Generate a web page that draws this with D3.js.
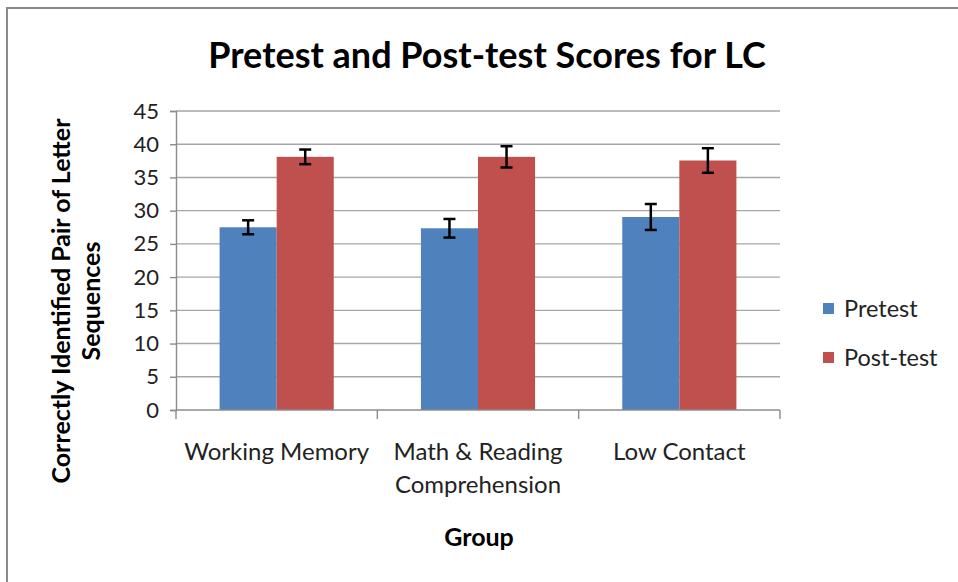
<!DOCTYPE html>
<html>
<head>
<meta charset="utf-8">
<script src="https://cdn.jsdelivr.net/npm/d3@7"></script>
<style>
  html, body { margin: 0; padding: 0; background: #fff; }
  svg { display: block; }
  text { font-family: Lato, "Open Sans", sans-serif; }
</style>
</head>
<body>
<svg id="chart" width="958" height="582"></svg>
<script>
// Group labels (each may wrap onto two lines)
const categories = ["Working Memory", "Math & Reading Comprehension", "Low Contact"];
const categoryLines = [["Working Memory"], ["Math & Reading", "Comprehension"], ["Low Contact"]];
const seriesNames = ["Pretest", "Post-test"];
// Mean scores per group
const pretest = [27.5, 27.35, 29.05];
const posttest = [38.1, 38.1, 37.55];
// Error bar half-widths
const pretestErr = [1.05, 1.4, 1.95];
const posttestErr = [1.1, 1.6, 1.85];
const yTicks = [0, 5, 10, 15, 20, 25, 30, 35, 40, 45];
const colors = ["#4F81BD", "#C0504D"];

const svg = d3.select("#chart");

// outer frame
svg.append("path")
  .attr("d", "M7,582 V8 H958")
  .attr("fill", "none")
  .attr("stroke", "#8a8a8a")
  .attr("stroke-width", 2);

const plot = { left: 176, right: 780, top: 111, bottom: 410 };

const y = d3.scaleLinear().domain([0, 45]).range([plot.bottom, plot.top]);
const x0 = d3.scaleBand().domain(categories)
  .range([plot.left, plot.right]).paddingInner(0.433).paddingOuter(0.2165);
const x1 = d3.scaleBand().domain(seriesNames).range([0, x0.bandwidth()]);
const step = x0.step();

// horizontal gridlines
svg.append("g").selectAll("line").data(yTicks.filter(t => t > 0)).join("line")
  .attr("x1", plot.left).attr("x2", plot.right)
  .attr("y1", d => y(d)).attr("y2", d => y(d))
  .attr("stroke", "#a6a6a6").attr("stroke-width", 1.4);

// y axis
const yAxis = svg.append("g").attr("transform", `translate(${plot.left},0)`)
  .call(d3.axisLeft(y).tickValues(yTicks).tickSize(6).tickPadding(11));
yAxis.select(".domain").attr("stroke", "#8c8c8c").attr("stroke-width", 1.4);
yAxis.selectAll(".tick line").attr("stroke", "#8c8c8c").attr("stroke-width", 1.4);
yAxis.selectAll(".tick text")
  .attr("font-size", 22).attr("fill", "#222")
  .style("font-family", "Lato, sans-serif");

// bars
const rows = categories.map((c, i) => ({
  cat: c,
  vals: [
    { s: seriesNames[0], v: pretest[i], e: pretestErr[i], k: 0 },
    { s: seriesNames[1], v: posttest[i], e: posttestErr[i], k: 1 }
  ]
}));

const groups = svg.append("g").selectAll("g").data(rows).join("g")
  .attr("transform", d => `translate(${x0(d.cat)},0)`);

groups.selectAll("rect").data(d => d.vals).join("rect")
  .attr("x", d => x1(d.s))
  .attr("width", x1.bandwidth())
  .attr("y", d => y(d.v))
  .attr("height", d => y(0) - y(d.v))
  .attr("fill", d => colors[d.k]);

// error bars
const eb = groups.selectAll("g.err").data(d => d.vals).join("g").attr("class", "err")
  .attr("transform", d => `translate(${x1(d.s) + x1.bandwidth() / 2},0)`);
eb.append("line").attr("x1", 0).attr("x2", 0)
  .attr("y1", d => y(d.v + d.e)).attr("y2", d => y(d.v - d.e))
  .attr("stroke", "#000").attr("stroke-width", 2.5);
eb.append("line").attr("x1", -6).attr("x2", 6)
  .attr("y1", d => y(d.v + d.e)).attr("y2", d => y(d.v + d.e))
  .attr("stroke", "#000").attr("stroke-width", 2.5);
eb.append("line").attr("x1", -6).attr("x2", 6)
  .attr("y1", d => y(d.v - d.e)).attr("y2", d => y(d.v - d.e))
  .attr("stroke", "#000").attr("stroke-width", 2.5);

// x axis line and category dividers
svg.append("line")
  .attr("x1", plot.left).attr("x2", plot.right)
  .attr("y1", plot.bottom).attr("y2", plot.bottom)
  .attr("stroke", "#8c8c8c").attr("stroke-width", 1.4);
const dividers = categories.map(c => x0(c) - step * x0.paddingInner() / 2).concat([plot.right]);
svg.append("g").selectAll("line").data(dividers).join("line")
  .attr("x1", d => d).attr("x2", d => d)
  .attr("y1", plot.bottom).attr("y2", plot.bottom + 9)
  .attr("stroke", "#8c8c8c").attr("stroke-width", 1.4);

// category labels
const cl = svg.append("g").selectAll("text").data(categories).join("text")
  .attr("x", d => x0(d) + x0.bandwidth() / 2)
  .attr("y", 460)
  .attr("text-anchor", "middle")
  .attr("font-size", 24).attr("fill", "#222");
cl.selectAll("tspan").data((d, i) => categoryLines[i]).join("tspan")
  .attr("x", function() { return d3.select(this.parentNode).attr("x"); })
  .attr("dy", (d, i) => i === 0 ? 0 : 33)
  .text(d => d);

// title
svg.append("text")
  .attr("x", 487).attr("y", 68)
  .attr("text-anchor", "middle")
  .attr("font-size", 36).attr("font-weight", "bold").attr("fill", "#000")
  .text("Pretest and Post-test Scores for LC");

// axis titles
svg.append("text")
  .attr("x", 479).attr("y", 546)
  .attr("text-anchor", "middle")
  .attr("font-size", 25).attr("font-weight", "bold").attr("fill", "#000")
  .text("Group");

const yt = svg.append("text")
  .attr("transform", "translate(70,301) rotate(-90)")
  .attr("text-anchor", "middle")
  .attr("font-size", 25).attr("font-weight", "bold").attr("fill", "#000");
yt.append("tspan").attr("x", 0).attr("dy", 0).text("Correctly Identified Pair of Letter");
yt.append("tspan").attr("x", 0).attr("dy", 30).text("Sequences");

// legend
const lg = svg.append("g").selectAll("g").data(seriesNames).join("g")
  .attr("transform", (d, i) => `translate(823,${303 + i * 49})`);
lg.append("rect").attr("width", 11).attr("height", 11).attr("fill", (d, i) => colors[i]);
lg.append("text").attr("x", 21).attr("y", 14)
  .attr("font-size", 23.5).attr("fill", "#222").text(d => d);
</script>
</body>
</html>
